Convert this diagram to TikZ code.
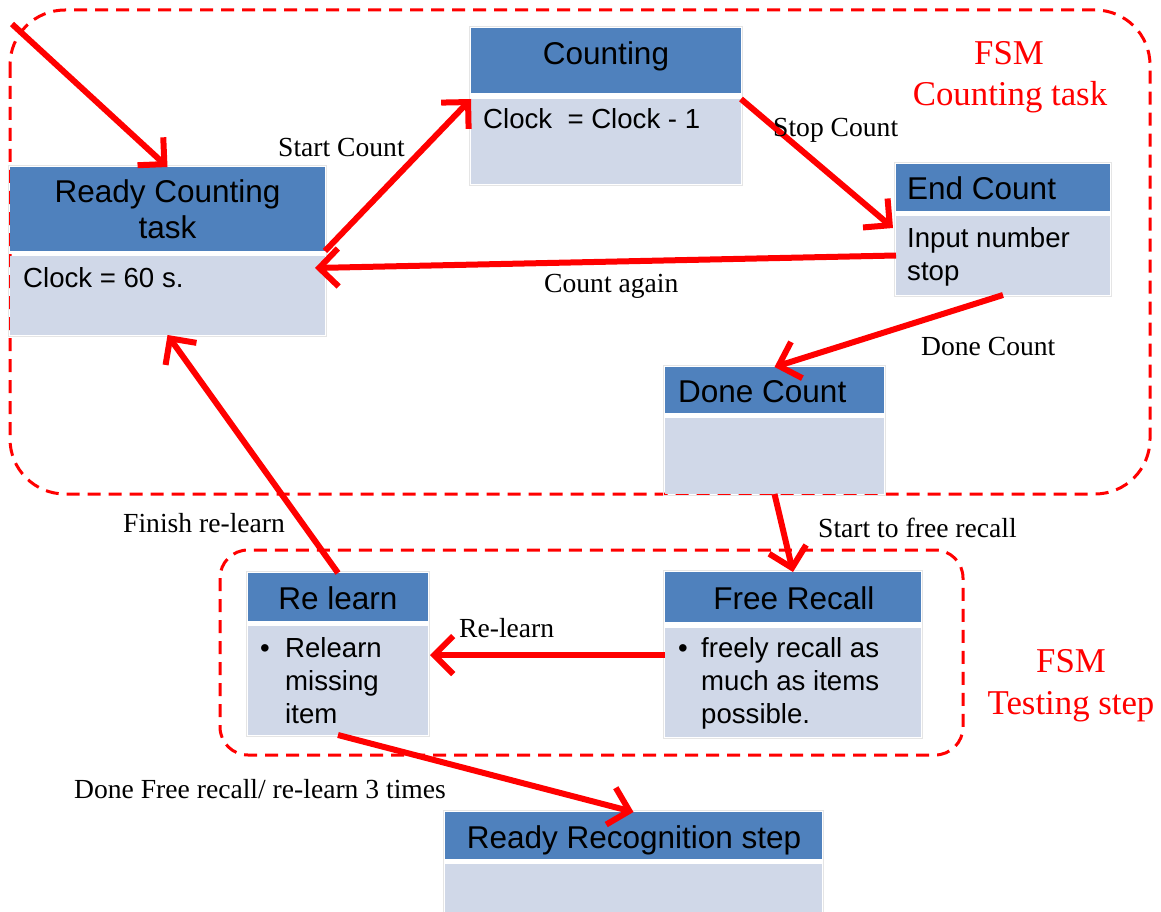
\documentclass[tikz,border=0pt]{standalone}
\usepackage{fontspec}
\setmainfont{Liberation Serif}
\newfontfamily\arialf{Liberation Sans}
\usetikzlibrary{arrows.meta,calc,fit}
\definecolor{hdrblue}{HTML}{4F81BD}
\definecolor{bodyblue}{HTML}{D0D8E8}
\definecolor{fsmred}{HTML}{FF0000}
\tikzset{
 hdr/.style={fill=hdrblue, draw=none, inner sep=0pt, outer sep=0pt, anchor=north west},
 bdy/.style={fill=bodyblue, draw=none, inner sep=0pt, outer sep=0pt, anchor=north west},
 frm/.style={draw=black!10, line width=0.8pt, inner sep=1.5pt},
 htext/.style={font=\arialf\fontsize{31.5}{36}\selectfont, inner sep=0pt},
 btext/.style={font=\arialf\fontsize{27.6}{33}\selectfont, inner sep=0pt, anchor=base west},
 lbl/.style={font=\fontsize{27.6}{32}\selectfont, inner sep=0pt, anchor=base west},
 fsmlbl/.style={font=\fontsize{34.8}{42}\selectfont, text=fsmred, inner sep=0pt, anchor=base},
 grp/.style={draw=fsmred, line width=3pt, dash pattern=on 13pt off 8pt},
 trans/.style={draw=fsmred, line width=6pt, -{Straight Barb[length=19pt,width=38pt]}},
}
\begin{document}
\begin{tikzpicture}[x=1pt,y=-1pt]
\clip (0,0) rectangle (1161,912);
\fill[white] (0,0) rectangle (1161,912);

% group outlines
\draw[grp, rounded corners=55pt] (10,10) rectangle (1150,494);
\draw[grp, rounded corners=28pt] (220,550) rectangle (963,755);

% Ready Counting task
\node[hdr, minimum width=315pt, minimum height=84pt] (rch) at (10,167) {};
\node[bdy, minimum width=315pt, minimum height=79pt] (rcb) at (10,256) {};
\node[frm, fit=(rch)(rcb)] (rcf) {};
\node[htext, anchor=base] (rcht1) at (167.5,202) {Ready Counting};
\node[htext, anchor=base] (rcht2) at (167.5,238) {task};
\node[btext] (rcbt) at (23,287) {Clock = 60 s.};

% Counting
\node[hdr, minimum width=270pt, minimum height=65pt] (ch) at (471,28) {};
\node[bdy, minimum width=270pt, minimum height=85pt] (cb) at (471,99) {};
\node[frm, fit=(ch)(cb)] (cf) {};
\node[htext, anchor=base] (cht) at (606,65) {Counting};
\node[btext] (cbt) at (483,129) {Clock\ \ = Clock - 1};

% End Count
\node[hdr, minimum width=214pt, minimum height=47pt] (ech) at (896,164) {};
\node[bdy, minimum width=214pt, minimum height=79pt] (ecb) at (896,216) {};
\node[frm, fit=(ech)(ecb)] (ecf) {};
\node[htext, anchor=base west] (echt) at (907,200) {End Count};
\node[btext] (ecbt1) at (907,247) {Input number};
\node[btext] (ecbt2) at (907,280) {stop};

% Done Count
\node[hdr, minimum width=219pt, minimum height=46pt] (dch) at (665,367) {};
\node[bdy, minimum width=219pt, minimum height=76pt] (dcb) at (665,418) {};
\node[frm, fit=(dch)(dcb)] (dcf) {};
\node[htext, anchor=base west] (dcht) at (678,402) {Done Count};

% Re learn
\node[hdr, minimum width=180pt, minimum height=48pt] (rlh) at (248,573) {};
\node[bdy, minimum width=180pt, minimum height=109pt] (rlb) at (248,626) {};
\node[frm, fit=(rlh)(rlb)] (rlf) {};
\node[htext, anchor=base] (rlht) at (338,609) {Re learn};
\node[btext] (rlbb) at (260,657) {\textbullet};
\node[btext] (rlbt1) at (285,657) {Relearn};
\node[btext] (rlbt2) at (285,690) {missing};
\node[btext] (rlbt3) at (285,723) {item};

% Free Recall
\node[hdr, minimum width=256pt, minimum height=50pt] (frh) at (665,572) {};
\node[bdy, minimum width=256pt, minimum height=109pt] (frb) at (665,628) {};
\node[frm, fit=(frh)(frb)] (frf) {};
\node[htext, anchor=base] (frht) at (794,609) {Free Recall};
\node[btext] (frbb) at (678,657) {\textbullet};
\node[btext] (frbt1) at (701,657) {freely recall as};
\node[btext] (frbt2) at (701,690) {much as items};
\node[btext] (frbt3) at (701,723) {possible.};

% Ready Recognition step
\node[hdr, minimum width=377pt, minimum height=47pt] (rrh) at (445,812) {};
\node[bdy, minimum width=377pt, minimum height=60pt] (rrb) at (445,864) {};
\node[frm, fit=(rrh)(rrb)] (rrf) {};
\node[htext, anchor=base] (rrht) at (634,848) {Ready Recognition step};

% FSM labels
\node[fsmlbl] (fsm1a) at (1009,65) {FSM};
\node[fsmlbl] (fsm1b) at (1010,106) {Counting task};
\node[fsmlbl] (fsm2a) at (1071,672) {FSM};
\node[fsmlbl] (fsm2b) at (1071,714) {Testing step};

% transitions
\coordinate (entry) at (12,24);
\draw[trans] (entry) -- (rch.north);
\draw[trans] (rch.south east) -- (cb.north west);
\draw[trans] (cb.north east) -- ($(ecb.north west)+(-3,12)$);
\draw[trans] (ecb.west) -- ($(rcb.north east)+(-10,12)$);
\draw[trans] (ecb.south) -- (dch.north);
\draw[trans] (dcb.south) -- (frh.north);
\draw[trans] ($(frb.north west)+(0,27)$) -- ($(rlb.north east)+(2,29)$);
\draw[trans] (rlh.north) -- (rcb.south);
\draw[trans] (rlb.south) -- (rrh.north);

% transition labels
\node[lbl] (l1) at (278,157) {Start Count};
\node[lbl] (l2) at (773,137) {Stop Count};
\node[lbl] (l3) at (544,292) {Count again};
\node[lbl] (l4) at (921,355) {Done Count};
\node[lbl] (l5) at (818,537) {Start to free recall};
\node[lbl] (l6) at (459,637) {Re-learn};
\node[lbl] (l7) at (123,532) {Finish re-learn};
\node[lbl] (l8) at (74,798) {Done Free recall/ re-learn 3 times};
\end{tikzpicture}
\end{document}
